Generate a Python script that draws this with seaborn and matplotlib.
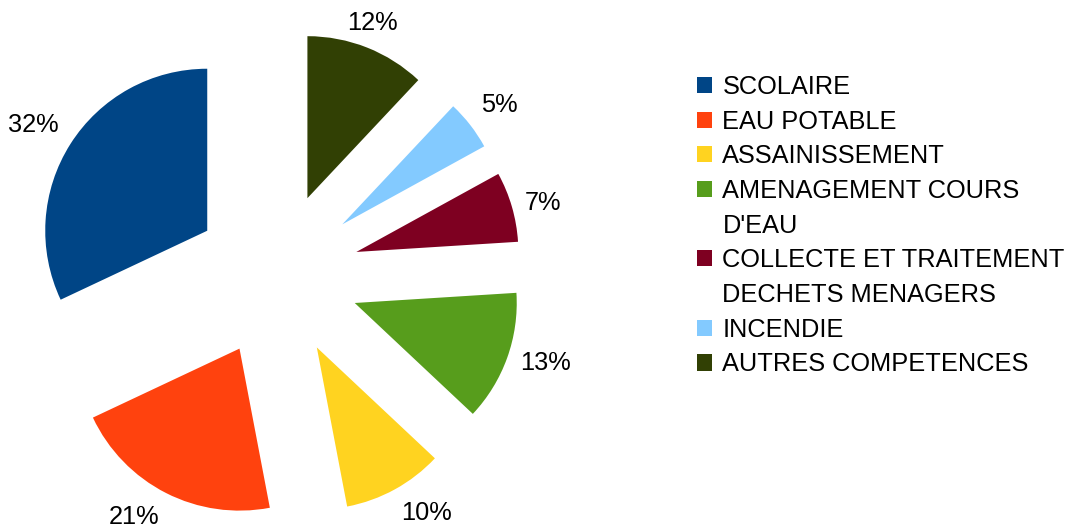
import matplotlib
matplotlib.use("Agg")
import numpy as np
import matplotlib.pyplot as plt
from matplotlib.patches import Patch
import seaborn as sns

# Répartition des dépenses par compétence
categories = [
    "SCOLAIRE",
    "EAU POTABLE",
    "ASSAINISSEMENT",
    "AMENAGEMENT COURS\nD'EAU",
    "COLLECTE ET TRAITEMENT\nDECHETS MENAGERS",
    "INCENDIE",
    "AUTRES COMPETENCES",
]
shares = [32, 21, 10, 13, 7, 5, 12]
colors_hex = ["#004586", "#ff420e", "#ffd320", "#579d1c", "#7e0021", "#83caff", "#314004"]

sns.set_theme(style="white")
plt.rcParams["font.family"] = ["Liberation Sans", "DejaVu Sans"]
plt.rcParams["text.color"] = "black"

FS = 18.3
W, H = 1066, 528
fig = plt.figure(figsize=(W / 100, H / 100), dpi=100)
ax = fig.add_axes([0, 0, 1, 1])

palette = sns.color_palette(colors_hex)
wedges, texts, autotexts = ax.pie(
    shares,
    colors=palette,
    startangle=90,
    counterclock=True,
    explode=[0.51] * len(shares),
    autopct="%.0f%%",
    pctdistance=1.085,
    radius=1.0,
    textprops=dict(fontsize=FS, color="black"),
    wedgeprops=dict(linewidth=0),
)


def outside_alignment(angle):
    """Anchor the label box corner that faces the slice."""
    a = angle % 360
    if a <= 22.5 or a >= 337.5:
        return "left", "center"
    if a < 67.5:
        return "left", "bottom"
    if a < 112.5:
        return "center", "bottom"
    if a <= 157.5:
        return "right", "bottom"
    if a <= 202.5:
        return "right", "center"
    if a < 247.5:
        return "right", "top"
    if a < 292.5:
        return "center", "top"
    return "left", "top"


for w, t in zip(wedges, autotexts):
    ha, va = outside_alignment(0.5 * (w.theta1 + w.theta2))
    t.set_ha(ha)
    t.set_va(va)

# pie centre and radius in pixels
cx, cy, r = 277, 275, 162
ax.set_xlim(-cx / r, (W - cx) / r)
ax.set_ylim(-(H - cy) / r, cy / r)
ax.set_aspect("auto")
ax.axis("off")

# legend: one row per text line, the colour key sits on the first line
handles, rows = [], []
for w, label in zip(wedges, categories):
    for i, line in enumerate(label.split("\n")):
        if i == 0:
            handles.append(Patch(facecolor=w.get_facecolor(), edgecolor="none"))
        else:
            handles.append(Patch(facecolor="none", edgecolor="none"))
        rows.append(line)

leg = ax.legend(
    handles,
    rows,
    loc="upper left",
    bbox_to_anchor=(697 / W, 1 - 75 / H),
    bbox_transform=fig.transFigure,
    frameon=False,
    fontsize=FS,
    labelcolor="black",
    handlelength=0.6,
    handleheight=0.6,
    handletextpad=0.4,
    labelspacing=0.42,
    borderpad=0,
    borderaxespad=0,
)

fig.savefig("out.png", dpi=100, facecolor="white")
